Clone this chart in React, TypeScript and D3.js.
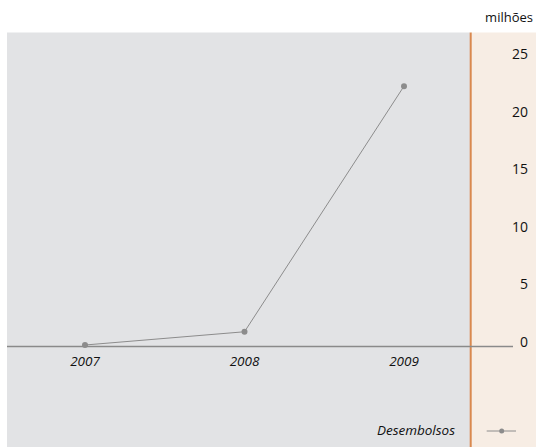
import * as d3 from 'd3';

const years = ['2007', '2008', '2009'];
const desembolsos = [0.13, 1.28, 22.6];
const yTicks = [0, 5, 10, 15, 20, 25];
const unitLabel = 'milhões';
const seriesName = 'Desembolsos';

const W = 536;
const H = 447;
const FONT = '"Open Sans", "Noto Sans", sans-serif';

const App = () => {
  const x = d3.scalePoint<string>().domain(years).range([85, 404]);
  const y = d3.scaleLinear().domain([0, 25]).range([346.5, 58.5]);

  const line = d3
    .line<number>()
    .x((d, i) => x(years[i]) as number)
    .y((d) => y(d));

  return (
    <svg
      width={W}
      height={H}
      style={{ position: 'absolute', left: 0, top: 0, display: 'block' }}
    >
      <rect x={0} y={0} width={W} height={H} fill='#ffffff' />
      {/* panels */}
      <rect x={7} y={32.5} width={463} height={H - 32.5} fill='#e2e3e5' />
      <rect x={471} y={32.5} width={W - 471} height={H - 32.5} fill='#f7ede4' />
      <line x1={470.7} x2={470.7} y1={32.5} y2={H} stroke='#d9894f' strokeWidth={2} />

      {/* unit */}
      <text x={533} y={22} textAnchor='end' fontFamily={FONT} fontSize={13} fill='#111'>
        {unitLabel}
      </text>

      {/* zero line */}
      <line x1={7} x2={513} y1={y(0)} y2={y(0)} stroke='#8a8a8a' strokeWidth={1.5} />

      {/* y ticks */}
      {yTicks.map((t) => (
        <text
          key={t}
          x={528}
          y={y(t) - 4.5}
          dy='0.35em'
          textAnchor='end'
          fontFamily={FONT}
          fontSize={14}
          fill='#111'
        >
          {t}
        </text>
      ))}

      {/* x ticks */}
      {years.map((yr) => (
        <text
          key={yr}
          x={x(yr)}
          y={361.7}
          dy='0.35em'
          textAnchor='middle'
          fontFamily={FONT}
          fontStyle='italic'
          fontSize={13.5}
          fill='#111'
        >
          {yr}
        </text>
      ))}

      {/* series */}
      <path d={line(desembolsos) || ''} fill='none' stroke='#8c8c8c' strokeWidth={1} />
      {desembolsos.map((v, i) => (
        <circle key={i} cx={x(years[i])} cy={y(v)} r={3} fill='#8c8c8c' />
      ))}

      {/* legend */}
      <text
        x={455}
        y={430.7}
        dy='0.35em'
        textAnchor='end'
        fontFamily={FONT}
        fontStyle='italic'
        fontSize={13.5}
        fill='#111'
      >
        {seriesName}
      </text>
      <line x1={486.7} x2={516} y1={431} y2={431} stroke='#8c8c8c' strokeWidth={1} />
      <circle cx={501.7} cy={431} r={2.5} fill='#8c8c8c' />
    </svg>
  );
};

export default App;
